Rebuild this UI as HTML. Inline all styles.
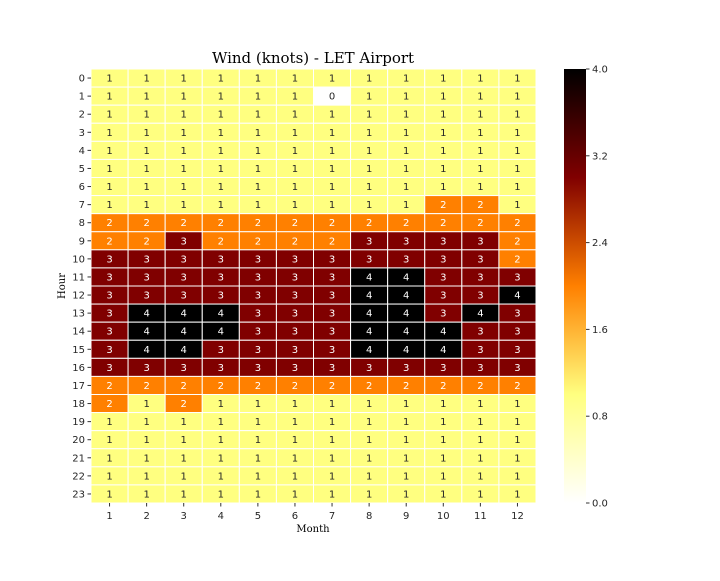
<!DOCTYPE html>
<html><head><meta charset="utf-8"><style>
body{margin:0;background:#fff;}
svg text{font-family:"DejaVu Sans","Liberation Sans",sans-serif;}
.serif{font-family:"DejaVu Serif","Liberation Serif",serif;}
</style></head><body>
<svg id="chart" width="720" height="576" xmlns="http://www.w3.org/2000/svg">
<defs><linearGradient id="cb" x1="0" y1="1" x2="0" y2="0">
<stop offset="0" stop-color="#ffffff"/><stop offset="0.25" stop-color="#ffff80"/>
<stop offset="0.5" stop-color="#ff8000"/><stop offset="0.75" stop-color="#800000"/>
<stop offset="1" stop-color="#000000"/></linearGradient></defs>
<text class="serif" x="313" y="63" font-size="15" text-anchor="middle">Wind (knots) - LET Airport</text>
<text class="serif" x="313" y="532" font-size="10" text-anchor="middle">Month</text>
<text class="serif" x="0" y="0" font-size="10" text-anchor="middle" transform="translate(65,286) rotate(-90)">Hour</text>
<g id="cells"></g><g id="xt"></g><g id="yt"></g>
<rect x="564" y="69" width="22" height="434" fill="url(#cb)"/>
<g id="cbt"></g>
</svg>
<script>
const months = [1,2,3,4,5,6,7,8,9,10,11,12];
const hours = [0,1,2,3,4,5,6,7,8,9,10,11,12,13,14,15,16,17,18,19,20,21,22,23];
const row0 = [1,1,1,1,1,1,1,1,1,1,1,1];
const row1 = [1,1,1,1,1,1,0,1,1,1,1,1];
const row7 = [1,1,1,1,1,1,1,1,1,2,2,1];
const row8 = [2,2,2,2,2,2,2,2,2,2,2,2];
const row9 = [2,2,3,2,2,2,2,3,3,3,3,2];
const row10 = [3,3,3,3,3,3,3,3,3,3,3,2];
const row11 = [3,3,3,3,3,3,3,4,4,3,3,3];
const row12 = [3,3,3,3,3,3,3,4,4,3,3,4];
const row13 = [3,4,4,4,3,3,3,4,4,3,4,3];
const row14 = [3,4,4,4,3,3,3,4,4,4,3,3];
const row15 = [3,4,4,3,3,3,3,4,4,4,3,3];
const row16 = [3,3,3,3,3,3,3,3,3,3,3,3];
const row17 = [2,2,2,2,2,2,2,2,2,2,2,2];
const row18 = [2,1,2,1,1,1,1,1,1,1,1,1];
const values = [row0,row1,row0,row0,row0,row0,row0,row7,row8,row9,row10,row11,row12,row13,row14,row15,row16,row17,row18,row0,row0,row0,row0,row0];
const cbTicks = [0,0.8,1.6,2.4,3.2,4.0];
const vmin=0,vmax=4;
const L=91,R=536,T=69,B=503;
const cw=(R-L)/months.length, ch=(B-T)/hours.length;
const xc=i=>L+i*cw, yc=j=>T+j*ch;
const stops=[[255,255,255],[255,255,128],[255,128,0],[128,0,0],[0,0,0]];
function color(v){let t=(v-vmin)/(vmax-vmin)*4;t=Math.max(0,Math.min(4,t));let i=Math.min(3,Math.floor(t)),f=t-i;
 const c=stops[i].map((a,k)=>Math.round(a+(stops[i+1][k]-a)*f));return `rgb(${c})`;}
const NS="http://www.w3.org/2000/svg";
function mk(tag,attrs,parent){const e=document.createElementNS(NS,tag);for(const k in attrs)e.setAttribute(k,attrs[k]);parent.appendChild(e);return e;}
const cells=document.getElementById('cells');
values.forEach((row,j)=>row.forEach((v,i)=>{
 const r=mk('rect',{x:xc(i),y:yc(j),width:cw,height:ch,fill:color(v),stroke:'#fff','stroke-width':1},cells);
 
 
 const t=mk('text',{x:xc(i)+cw/2,y:yc(j)+ch/2+3.5,'font-size':10,'text-anchor':'middle',fill:v>=1.6?'#fff':'#262626'},cells);
 
 
 t.textContent=v;
}));
const xt=document.getElementById('xt');
months.forEach((m,i)=>{const x=xc(i)+cw/2;
 mk('line',{x1:x,x2:x,y1:B,y2:B+3.5,stroke:'#333'},xt);
 const t=mk('text',{x:x,y:B+16,'font-size':10,'text-anchor':'middle',fill:'#262626'},xt);
 
 
 t.textContent=m;});
const yt=document.getElementById('yt');
hours.forEach((h,j)=>{const y=yc(j)+ch/2;
 mk('line',{x1:L-3.5,x2:L,y1:y,y2:y,stroke:'#333'},yt);
 const t=mk('text',{x:L-6,y:y+3.5,'font-size':10,'text-anchor':'end',fill:'#262626'},yt);
 
 
 t.textContent=h;});
const cbt=document.getElementById('cbt');
cbTicks.forEach(v=>{const y=B-(v-vmin)/(vmax-vmin)*(B-T);
 mk('line',{x1:586,x2:589.5,y1:y,y2:y,stroke:'#333'},cbt);
 const t=mk('text',{x:592,y:y+3.5,'font-size':10,fill:'#262626'},cbt);
 
 
 t.textContent=v.toFixed(1);});
</script>
</body></html>
